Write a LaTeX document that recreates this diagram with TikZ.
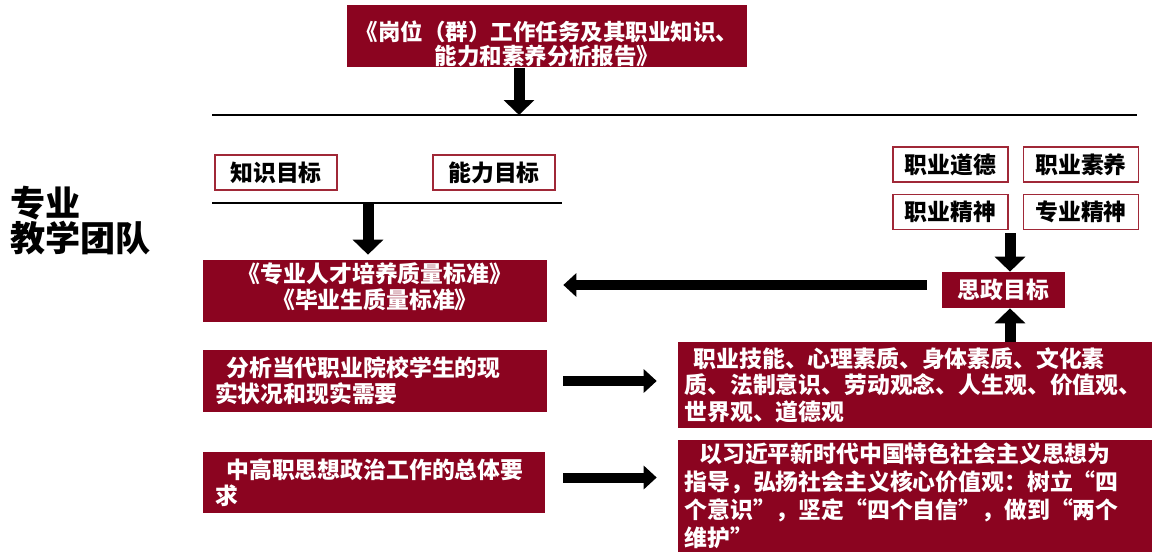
\documentclass[tikz,border=0pt]{standalone}
\usepackage{fontspec}
\setmainfont{Noto Sans CJK SC}
\usetikzlibrary{arrows.meta, positioning}

\definecolor{darkred}{RGB}{139,4,32}
\definecolor{rimred}{RGB}{160,40,55}
\newcommand\qo{\makebox[1em][r]{“}}
\newcommand\qc{\makebox[1em][l]{”}}

\begin{document}
\begin{tikzpicture}[
            x = 0.02cm,
            y = -0.02cm,
            every node/.style = {font=\bfseries\fontsize{13pt}{15pt}\selectfont},
            vert/.style = {line width=0.22cm, -{Triangle[width=0.6cm, length=0.3cm]}},
            horiz/.style = {line width=0.2cm, -{Triangle[width=0.46cm, length=0.26cm]}},
            rule/.style = {line width=0.8pt}
        ]

        \tikzstyle{redbox}=[
            fill = darkred,
            text = white,
            inner sep = 0pt
        ]
        \tikzstyle{whitebox}=[
            draw = rimred,
            line width = 0.9pt,
            fill = white,
            minimum width = 2.3cm,
            minimum height = 0.7cm,
            inner sep = 0pt
        ]

        \useasboundingbox (0,0) rectangle (1155,554);

        \node[redbox, minimum width=8cm, minimum height=1.24cm, align=center,
              font=\bfseries\fontsize{12.8pt}{13.8pt}\selectfont] (gangwei) at (547,36)
              {\rule{0pt}{1.6em}《岗位（群）工作任务及其职业知识、\\能力和素养分析报告》};
        \coordinate (r1l) at (212,115);
        \coordinate (r1r) at (1137,115);
        \draw[rule] (r1l) -- (r1r);
        \draw[vert] ([xshift=-0.56cm]gangwei.south) -- ([xshift=-0.56cm]gangwei.south |- r1l);

        \node[anchor=west, align=left, inner sep=0pt,
              font=\bfseries\fontsize{20pt}{20pt}\selectfont] (tuandui) at (10,221) {专业\\教学团队};

        \node[whitebox, minimum width=2.44cm] (zhishi) at (276,172.5) {知识目标};
        \node[whitebox, minimum width=2.44cm] (nengli) at (494,172.5) {能力目标};
        \coordinate (r2l) at (212,203);
        \coordinate (r2r) at (562,203);
        \draw[rule] (r2l) -- (r2r);

        \node[redbox, minimum width=6.88cm, minimum height=1.24cm, align=center] (biaozhun) at (375,291)
              {《专业人才培养质量标准》\\《毕业生质量标准》\rule[-0.5em]{0pt}{0pt}};
        \coordinate (k) at (368,203);
        \draw[vert] (k) -- ([yshift=0.1cm]k |- biaozhun.north);

        \node[redbox, minimum width=6.88cm, minimum height=1.24cm, text width=6.4cm, inner xsep=0.24cm, align=left] (fenxi) at (375,381)
              {\hspace*{0.5em}分析当代职业院校学生的现\\实状况和现实需要};
        \node[redbox, minimum width=6.84cm, minimum height=1.22cm, text width=6.36cm, inner xsep=0.24cm, align=left] (zonti) at (374,482.5)
              {\hspace*{0.5em}中高职思想政治工作的总体要\\求};

        % right side
        \node[whitebox] (daode) at (950.5,164.5) {职业道德};
        \node[whitebox, right=0.28cm of daode] (suyang) {职业素养};
        \node[whitebox, below=0.22cm of daode] (jingshen) {职业精神};
        \node[whitebox, below=0.22cm of suyang] (zhuanye) {专业精神};

        \node[redbox, minimum width=2.46cm, minimum height=0.72cm] (sizheng) at (1003.5,290) {思政目标};
        \coordinate (d) at (1010,233);
        \draw[vert] (d) -- (d |- sizheng.north);

        \node[redbox, minimum width=9.48cm, minimum height=1.72cm, text width=9.22cm, inner xsep=0.13cm, align=left] (suzhi) at (915,385)
              {\hspace*{0.4em}职业技能、心理素质、身体素质、文化素\\质、法制意识、劳动观念、人生观、价值观、\\世界观、道德观};
        \node[redbox, minimum width=9.48cm, minimum height=2.24cm, text width=9.22cm, inner xsep=0.13cm, align=left,
              font=\bfseries\fontsize{13pt}{16pt}\selectfont] (sixiang) at (915,496)
              {\hspace*{0.65em}以习近平新时代中国特色社会主义思想为\\指导，弘扬社会主义核心价值观：树立\qo 四\\个意识\qc，坚定\qo 四个自信\qc，做到\qo 两个\\维护\qc};

        \draw[vert] (d |- suzhi.north) -- (d |- sizheng.south);
        \draw[horiz] ([xshift=-0.3cm, yshift=0.1cm]sizheng.west) -- ([xshift=0.32cm, yshift=0.1cm]biaozhun.east |- sizheng.west);
        \draw[horiz] ([xshift=0.32cm]fenxi.east) -- ([xshift=-0.42cm]suzhi.west |- fenxi.east);
        \draw[horiz] ([xshift=0.36cm, yshift=0.1cm]zonti.east) -- ([xshift=-0.42cm, yshift=0.1cm]sixiang.west |- zonti.east);

\end{tikzpicture}
\end{document}
